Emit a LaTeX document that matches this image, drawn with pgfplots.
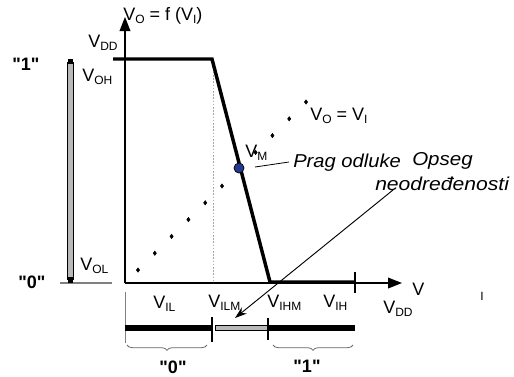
\documentclass[border=0pt]{standalone}
\usepackage{fontspec}
\setmainfont{Liberation Sans}
\newfontfamily\qfont{Liberation Sans}
\usepackage{graphicx}
\usepackage{pgfplots}
\pgfplotsset{compat=1.18}
\usetikzlibrary{arrows.meta,decorations.pathreplacing}
\newcommand{\sub}[1]{\raisebox{-2.3pt}{\fontsize{9}{10}\selectfont #1}}
\definecolor{vmblue}{RGB}{35,55,140}
\tikzset{lbl/.style={font=\fontsize{13.5}{16}\selectfont, inner sep=0pt, anchor=base west},
  itl/.style={font=\fontsize{14}{16}\selectfont\itshape, inner sep=0pt, anchor=base west}}
\begin{document}
\begin{tikzpicture}
\begin{axis}[hide axis, scale only axis, width=385.5pt, height=282pt,
  xmin=0, xmax=514, ymin=0, ymax=376, y dir=reverse, clip=false]
\path (axis cs:0,0) rectangle (axis cs:514,376);
% axes
\draw[line width=1.1pt, -{Triangle[length=10.5pt,width=8pt]}] (axis cs:125,283) -- (axis cs:125,17);
\draw[line width=1.1pt, -{Triangle[length=10.5pt,width=8pt]}] (axis cs:125,283) -- (axis cs:402,283);
% dotted guide
\draw[gray!70, line width=0.5pt, dash pattern=on 1.2pt off 1.2pt] (axis cs:213,59) -- (axis cs:213,283);
% left level bar
\draw[gray, line width=0.8pt] (axis cs:60,283) -- (axis cs:112,283);
\draw[black, fill=gray!55, line width=0.5pt] (axis cs:67.5,62) rectangle (axis cs:73,279);
\fill[black] (axis cs:67.5,59) rectangle (axis cs:73,64);
\fill[black] (axis cs:67.5,277) rectangle (axis cs:73,283);
% transfer curve
\addplot[black, line width=2.6pt, line join=miter, mark=none] coordinates {(113,59) (212,59) (270,282) (355,282)};
\draw[line width=1.3pt] (axis cs:355,272) -- (axis cs:355,293);
% Vo = Vi dots
\addplot[only marks, mark=diamond*, mark size=1.6pt, black] coordinates {
(138,270) (154.8,253.2) (171.6,236.4) (188.4,219.6) (205.2,202.8) (222,186)
(238.8,169.2) (255.6,152.4) (272.4,135.6) (289.2,118.8) (306,102)};
% V_M point
\addplot[only marks, mark=*, mark size=3.8pt, fill=vmblue, draw=black, line width=0.5pt] coordinates {(239,168)};
\draw[line width=0.6pt] (axis cs:255,167) -- (axis cs:289,162);
% arrow to undefined range
\draw[line width=0.7pt, -{Stealth[length=9pt,width=6pt]}] (axis cs:393,190) -- (axis cs:235,318);
% bottom bar
\draw[gray, line width=0.6pt] (axis cs:125,292) -- (axis cs:125,343);
\draw[black, line width=3.8pt] (axis cs:125,328) -- (axis cs:212,328);
\draw[black, line width=3.8pt] (axis cs:268,328) -- (axis cs:355,328);
\draw[black, fill=gray!55, line width=0.5pt] (axis cs:215,325.5) rectangle (axis cs:268,330.5);
\draw[line width=1.3pt] (axis cs:212,317) -- (axis cs:212,342);
\draw[line width=1.3pt] (axis cs:268,318) -- (axis cs:268,340);
% braces
\draw[gray!80!black, line width=0.6pt, decorate, decoration={brace, mirror, amplitude=4pt}] (axis cs:127,345) -- (axis cs:207,345);
\draw[gray!80!black, line width=0.6pt, decorate, decoration={brace, mirror, amplitude=4pt}] (axis cs:273,345) -- (axis cs:353,345);
% labels
\node[lbl] at (axis cs:123,20) {V\sub{O} = f (V\sub{I})};
\node[lbl] at (axis cs:88,47) {V\sub{DD}};
\node[lbl] at (axis cs:12,70) {\qfont\bfseries "1"};
\node[lbl] at (axis cs:82,81) {V\sub{OH}};
\node[lbl] at (axis cs:80,270) {V\sub{OL}};
\node[lbl] at (axis cs:18,288) {\qfont\bfseries "0"};
\node[lbl] at (axis cs:153,308) {V\sub{IL}};
\node[lbl] at (axis cs:208,307) {V\sub{ILM}};
\node[lbl] at (axis cs:267,307) {V\sub{IHM}};
\node[lbl] at (axis cs:323,307) {V\sub{IH}};
\node[lbl] at (axis cs:412,295) {V};
\node[lbl, font=\fontsize{9}{10}\selectfont] at (axis cs:480,300) {I};
\node[lbl] at (axis cs:383,313) {V\sub{DD}};
\node[lbl] at (axis cs:310,120) {V\sub{O} = V\sub{I}};
\node[lbl] at (axis cs:245,157) {V\sub{M}};
\node[itl] at (axis cs:293,167) {\scalebox{1.08}[1]{Prag odluke}};
\node[itl] at (axis cs:412,165) {\scalebox{1.1}[1]{Opseg}};
\node[itl] at (axis cs:375,190) {\scalebox{1.13}[1]{neodređenosti}};
\node[lbl, anchor=base] at (axis cs:173,373) {\qfont\bfseries "0"};
\node[lbl, anchor=base] at (axis cs:307,372) {\qfont\bfseries "1"};
\end{axis}
\end{tikzpicture}
\end{document}
